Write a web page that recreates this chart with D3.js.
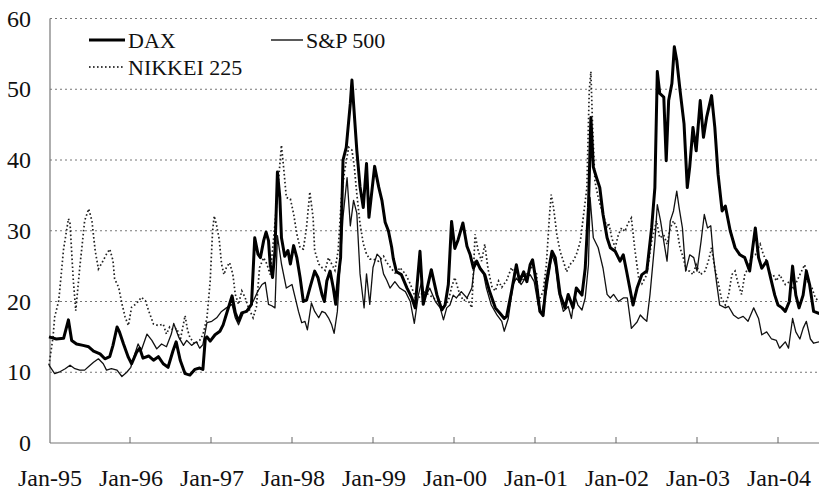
<!DOCTYPE html>
<html>
<head>
<meta charset="utf-8">
<script src="https://cdn.jsdelivr.net/npm/d3@7"></script>
</head>
<body style="margin:0">
<svg id="chart" width="819" height="491"></svg>
<script>
// implied volatility, [decimal year, value]
const dax = [
  [1995.00,15.0],[1995.09,14.7],[1995.18,14.8],[1995.24,17.4],[1995.28,14.5],[1995.34,14.0],[1995.42,13.8],
  [1995.49,13.6],[1995.55,13.0],[1995.63,12.6],[1995.69,11.9],[1995.75,12.2],[1995.79,13.8],[1995.84,16.4],
  [1995.87,15.7],[1995.92,14.0],[1995.98,12.1],[1996.02,11.2],[1996.08,12.8],[1996.12,13.4],[1996.16,12.0],
  [1996.23,12.3],[1996.29,11.7],[1996.35,12.2],[1996.41,11.2],[1996.47,10.7],[1996.53,13.0],[1996.57,14.3],
  [1996.62,11.7],[1996.68,9.8],[1996.74,9.6],[1996.80,10.4],[1996.86,10.6],[1996.90,10.4],[1996.93,14.8],
  [1996.95,15.0],[1996.99,14.4],[1997.05,15.3],[1997.11,15.8],[1997.15,16.7],[1997.19,18.2],[1997.26,20.8],
  [1997.30,18.4],[1997.34,17.2],[1997.38,18.4],[1997.44,18.6],[1997.50,19.6],[1997.54,29.0],[1997.58,26.7],
  [1997.61,26.2],[1997.65,28.6],[1997.68,29.8],[1997.71,28.6],[1997.73,25.3],[1997.76,23.4],[1997.79,27.2],
  [1997.82,38.3],[1997.85,34.7],[1997.87,29.0],[1997.91,26.4],[1997.95,27.2],[1997.98,25.3],[1998.02,27.9],
  [1998.06,26.2],[1998.10,23.4],[1998.14,20.0],[1998.18,20.2],[1998.22,21.9],[1998.28,24.3],[1998.32,23.4],
  [1998.37,21.0],[1998.40,20.0],[1998.43,22.9],[1998.47,24.3],[1998.51,21.9],[1998.54,19.6],[1998.57,23.4],
  [1998.60,26.2],[1998.63,40.0],[1998.67,41.8],[1998.72,48.0],[1998.74,51.3],[1998.80,41.4],[1998.84,36.2],
  [1998.88,33.3],[1998.92,39.5],[1998.95,31.9],[1999.02,39.1],[1999.07,36.2],[1999.11,34.3],[1999.15,31.2],
  [1999.19,30.0],[1999.23,27.7],[1999.25,26.1],[1999.29,24.2],[1999.35,23.8],[1999.42,21.9],[1999.48,20.5],
  [1999.52,19.1],[1999.58,27.1],[1999.62,19.6],[1999.66,21.4],[1999.72,24.5],[1999.79,20.9],[1999.85,18.8],
  [1999.89,19.5],[1999.93,22.4],[1999.97,31.3],[2000.01,27.5],[2000.05,28.7],[2000.11,31.1],[2000.16,27.8],
  [2000.20,26.6],[2000.24,24.7],[2000.28,25.7],[2000.32,24.7],[2000.38,23.8],[2000.44,21.4],[2000.51,19.1],
  [2000.57,18.3],[2000.62,17.6],[2000.65,17.9],[2000.71,21.4],[2000.77,25.2],[2000.81,22.8],[2000.86,24.2],
  [2000.90,22.8],[2000.94,25.2],[2000.97,25.9],[2001.02,22.4],[2001.06,18.6],[2001.10,18.0],[2001.14,22.8],
  [2001.21,27.1],[2001.25,26.2],[2001.31,21.0],[2001.37,19.1],[2001.41,21.0],[2001.47,19.1],[2001.51,21.9],
  [2001.58,20.9],[2001.62,24.7],[2001.66,33.3],[2001.69,46.0],[2001.72,39.0],[2001.76,37.5],[2001.80,36.1],
  [2001.84,32.3],[2001.89,29.0],[2001.93,27.6],[2001.99,27.1],[2002.05,25.7],[2002.09,26.6],[2002.13,24.3],
  [2002.17,21.9],[2002.21,19.5],[2002.26,21.9],[2002.32,23.8],[2002.38,24.3],[2002.44,30.4],[2002.48,36.1],
  [2002.51,52.5],[2002.54,49.4],[2002.59,48.9],[2002.62,39.9],[2002.65,48.4],[2002.69,50.8],[2002.72,56.0],
  [2002.75,54.1],[2002.79,49.9],[2002.84,45.1],[2002.88,36.1],[2002.91,39.0],[2002.95,44.6],[2002.99,41.3],
  [2003.04,48.4],[2003.08,43.2],[2003.12,46.1],[2003.18,49.1],[2003.22,44.6],[2003.26,38.0],[2003.31,32.8],
  [2003.35,33.5],[2003.41,30.0],[2003.47,27.6],[2003.53,26.6],[2003.59,26.2],[2003.65,24.3],[2003.72,30.4],
  [2003.76,26.2],[2003.80,24.7],[2003.86,25.7],[2003.92,22.8],[2003.96,20.9],[2004.00,19.5],[2004.05,19.1],
  [2004.09,18.6],[2004.14,20.0],[2004.18,25.0],[2004.22,20.9],[2004.26,19.1],[2004.31,20.9],[2004.35,24.3],
  [2004.39,22.4],[2004.44,18.6],[2004.51,18.3]
];

const sp500 = [
  [1995.00,11.0],[1995.07,9.8],[1995.14,10.1],[1995.20,10.5],[1995.26,11.0],[1995.32,10.5],[1995.38,10.3],
  [1995.44,10.3],[1995.49,10.8],[1995.55,11.4],[1995.61,11.9],[1995.67,11.2],[1995.71,10.3],[1995.77,10.5],
  [1995.84,10.3],[1995.90,9.4],[1995.96,10.0],[1996.01,10.7],[1996.06,12.6],[1996.10,14.0],[1996.14,13.1],
  [1996.21,15.4],[1996.27,14.5],[1996.33,13.3],[1996.39,14.0],[1996.45,13.6],[1996.51,15.4],[1996.54,16.9],
  [1996.60,15.0],[1996.66,13.8],[1996.70,14.5],[1996.76,13.8],[1996.82,14.3],[1996.86,13.4],[1996.90,13.9],
  [1996.95,17.0],[1997.01,17.2],[1997.07,17.7],[1997.13,18.6],[1997.19,19.1],[1997.26,19.6],[1997.30,17.7],
  [1997.34,16.7],[1997.40,18.4],[1997.46,18.9],[1997.52,20.0],[1997.58,21.5],[1997.63,22.4],[1997.67,22.7],
  [1997.71,19.6],[1997.75,19.4],[1997.79,19.1],[1997.82,29.3],[1997.87,25.3],[1997.93,21.9],[1998.00,22.4],
  [1998.04,20.5],[1998.08,18.6],[1998.12,17.0],[1998.16,17.2],[1998.19,16.0],[1998.24,19.8],[1998.28,18.6],
  [1998.33,17.7],[1998.37,18.6],[1998.41,18.4],[1998.45,17.7],[1998.49,16.7],[1998.52,15.5],[1998.56,18.6],
  [1998.59,24.3],[1998.63,32.0],[1998.68,37.5],[1998.72,30.7],[1998.76,34.3],[1998.80,32.5],[1998.84,23.9],
  [1998.89,19.1],[1998.92,23.9],[1998.96,19.6],[1999.00,24.8],[1999.05,26.7],[1999.09,26.2],[1999.13,23.9],
  [1999.17,23.0],[1999.21,21.9],[1999.27,22.8],[1999.33,21.9],[1999.40,21.4],[1999.46,20.0],[1999.51,16.9],
  [1999.56,20.9],[1999.60,22.8],[1999.64,20.5],[1999.70,21.9],[1999.77,20.0],[1999.83,19.1],[1999.87,17.4],
  [1999.91,19.1],[1999.95,19.5],[1999.99,20.9],[2000.03,20.5],[2000.09,21.4],[2000.16,20.5],[2000.22,21.9],
  [2000.26,25.7],[2000.30,25.2],[2000.36,24.2],[2000.40,21.9],[2000.46,19.5],[2000.53,18.1],[2000.59,17.2],
  [2000.62,15.8],[2000.67,17.6],[2000.73,22.4],[2000.77,23.3],[2000.83,22.4],[2000.88,23.3],[2000.94,23.8],
  [2000.99,22.8],[2001.04,19.5],[2001.08,18.3],[2001.14,21.4],[2001.21,26.6],[2001.25,25.2],[2001.29,21.4],
  [2001.35,18.6],[2001.41,19.3],[2001.45,17.6],[2001.49,20.9],[2001.53,19.5],[2001.58,18.8],[2001.62,20.5],
  [2001.66,25.2],[2001.68,34.7],[2001.72,29.0],[2001.78,27.6],[2001.84,24.7],[2001.89,21.0],[2001.93,20.5],
  [2001.97,21.0],[2002.03,20.0],[2002.09,20.5],[2002.14,20.5],[2002.19,16.2],[2002.26,17.1],[2002.30,18.1],
  [2002.34,17.6],[2002.38,17.2],[2002.42,21.0],[2002.48,28.5],[2002.51,33.7],[2002.55,31.4],[2002.59,28.5],
  [2002.63,25.7],[2002.67,31.4],[2002.71,32.8],[2002.75,35.6],[2002.78,33.2],[2002.82,30.4],[2002.86,24.3],
  [2002.91,26.6],[2002.96,26.2],[2003.00,24.3],[2003.05,28.5],[2003.09,32.3],[2003.13,30.4],[2003.17,30.7],
  [2003.20,26.6],[2003.24,22.8],[2003.28,19.5],[2003.35,19.1],[2003.39,19.3],[2003.45,18.1],[2003.51,17.6],
  [2003.57,17.9],[2003.63,17.2],[2003.70,19.1],[2003.76,17.6],[2003.80,15.3],[2003.86,15.7],[2003.92,14.7],
  [2003.98,14.5],[2004.02,13.4],[2004.09,14.3],[2004.13,13.4],[2004.18,17.6],[2004.22,15.7],[2004.27,14.7],
  [2004.31,16.2],[2004.35,17.2],[2004.40,14.7],[2004.44,14.1],[2004.51,14.3]
];

const nikkei = [
  [1995.00,11.0],[1995.05,15.0],[1995.07,17.8],[1995.12,20.1],[1995.18,27.4],[1995.24,31.7],[1995.26,31.0],
  [1995.30,23.0],[1995.33,18.7],[1995.38,24.8],[1995.44,31.4],[1995.49,33.1],[1995.53,31.4],[1995.57,27.2],
  [1995.61,24.6],[1995.67,25.8],[1995.71,26.7],[1995.75,27.4],[1995.79,25.8],[1995.81,23.2],[1995.86,22.0],
  [1995.90,19.7],[1995.94,17.8],[1995.98,16.6],[1996.02,19.2],[1996.08,19.7],[1996.14,20.6],[1996.19,20.1],
  [1996.23,18.7],[1996.29,16.8],[1996.35,16.6],[1996.41,16.8],[1996.45,15.4],[1996.49,16.4],[1996.53,16.0],
  [1996.58,16.2],[1996.62,14.5],[1996.68,18.0],[1996.71,16.0],[1996.74,14.9],[1996.80,14.0],[1996.86,14.5],
  [1996.90,15.3],[1996.95,17.7],[1996.99,22.9],[1997.02,30.0],[1997.04,32.1],[1997.07,30.7],[1997.10,28.9],
  [1997.13,25.3],[1997.16,23.8],[1997.19,24.8],[1997.23,25.5],[1997.27,23.8],[1997.30,21.0],[1997.34,19.6],
  [1997.38,21.5],[1997.42,20.6],[1997.46,19.2],[1997.52,17.7],[1997.56,19.2],[1997.60,24.8],[1997.65,26.2],
  [1997.69,25.3],[1997.73,23.8],[1997.79,31.0],[1997.83,36.6],[1997.87,42.1],[1997.90,38.5],[1997.93,34.7],
  [1997.98,34.5],[1998.02,32.4],[1998.06,29.5],[1998.10,27.6],[1998.14,27.4],[1998.18,30.5],[1998.22,35.5],
  [1998.26,31.9],[1998.28,27.2],[1998.33,25.3],[1998.37,24.8],[1998.41,24.4],[1998.45,26.2],[1998.49,25.3],
  [1998.53,24.4],[1998.57,27.2],[1998.61,34.7],[1998.65,38.5],[1998.70,41.8],[1998.74,41.4],[1998.77,39.0],
  [1998.80,35.2],[1998.84,31.0],[1998.88,28.2],[1998.92,26.7],[1998.96,26.0],[1999.00,26.0],[1999.07,25.7],
  [1999.13,26.4],[1999.17,25.5],[1999.23,24.6],[1999.29,23.8],[1999.33,24.8],[1999.40,23.9],[1999.46,22.5],
  [1999.54,20.1],[1999.62,21.4],[1999.70,20.9],[1999.79,20.1],[1999.87,19.1],[1999.93,20.1],[1999.97,22.0],
  [2000.01,23.4],[2000.07,21.0],[2000.12,20.1],[2000.16,20.5],[2000.22,19.1],[2000.26,29.5],[2000.30,27.1],
  [2000.34,25.7],[2000.38,28.1],[2000.42,24.6],[2000.47,22.0],[2000.51,21.5],[2000.55,22.9],[2000.59,22.0],
  [2000.65,23.0],[2000.71,24.8],[2000.75,23.9],[2000.81,23.9],[2000.86,23.0],[2000.90,23.9],[2000.96,24.8],
  [2001.02,23.9],[2001.04,20.0],[2001.10,21.4],[2001.14,25.2],[2001.18,32.3],[2001.20,35.1],[2001.23,33.2],
  [2001.27,29.4],[2001.31,27.1],[2001.35,25.7],[2001.39,24.2],[2001.43,25.2],[2001.47,25.7],[2001.51,26.6],
  [2001.56,28.5],[2001.60,32.3],[2001.64,36.0],[2001.67,49.9],[2001.69,52.5],[2001.71,45.1],[2001.74,37.0],
  [2001.78,34.7],[2001.84,32.3],[2001.89,30.4],[2001.91,31.1],[2001.95,28.9],[2001.99,27.6],[2002.03,29.5],
  [2002.07,30.4],[2002.11,29.9],[2002.15,31.1],[2002.19,31.8],[2002.23,27.6],[2002.28,23.3],[2002.32,22.5],
  [2002.38,23.8],[2002.44,28.5],[2002.50,31.4],[2002.54,29.0],[2002.59,29.4],[2002.63,28.1],[2002.67,30.4],
  [2002.71,31.4],[2002.75,30.4],[2002.79,27.6],[2002.83,26.2],[2002.87,24.3],[2002.91,24.3],[2002.95,23.8],
  [2002.99,25.2],[2003.04,23.8],[2003.10,24.3],[2003.14,25.7],[2003.18,27.6],[2003.22,24.7],[2003.26,22.8],
  [2003.30,20.5],[2003.35,19.5],[2003.39,20.9],[2003.43,23.8],[2003.47,24.3],[2003.51,22.4],[2003.55,21.0],
  [2003.59,23.8],[2003.63,24.7],[2003.67,26.2],[2003.72,26.6],[2003.78,28.1],[2003.82,26.6],[2003.86,25.7],
  [2003.90,23.8],[2003.94,23.8],[2003.98,22.9],[2004.02,23.8],[2004.09,22.4],[2004.14,22.8],[2004.19,21.9],
  [2004.23,22.8],[2004.27,23.8],[2004.33,25.2],[2004.37,22.8],[2004.42,21.9],[2004.46,20.5],[2004.51,20.0]
];

const years = [1995, 1996, 1997, 1998, 1999, 2000, 2001, 2002, 2003, 2004];
const yTicks = [0, 10, 20, 30, 40, 50, 60];

const svg = d3.select("#chart");

const x = d3.scaleLinear().domain([1995, 2004]).range([49, 778]);
const y = d3.scaleLinear().domain([0, 60]).range([443, 18.5]);

// dotted gridlines
svg.append("g")
    .selectAll("line")
    .data(yTicks.filter(d => d > 0))
    .join("line")
    .attr("x1", 50)
    .attr("x2", 819)
    .attr("y1", d => y(d))
    .attr("y2", d => y(d))
    .attr("stroke", "#777")
    .attr("stroke-width", 1)
    .attr("stroke-dasharray", "2,3");

// axes lines
svg.append("line")
    .attr("x1", 50).attr("x2", 50)
    .attr("y1", y(60)).attr("y2", y(0))
    .attr("stroke", "#777").attr("stroke-width", 1.2);
svg.append("line")
    .attr("x1", 50).attr("x2", 819)
    .attr("y1", y(0)).attr("y2", y(0))
    .attr("stroke", "#777").attr("stroke-width", 1.2);

// year ticks pointing up
svg.append("g")
    .selectAll("line")
    .data(years.slice(1))
    .join("line")
    .attr("x1", d => x(d))
    .attr("x2", d => x(d))
    .attr("y1", y(0))
    .attr("y2", y(0) - 6)
    .attr("stroke", "#666");

const line = d3.line()
    .x(d => x(d[0]))
    .y(d => y(d[1]));

svg.append("path")
    .datum(nikkei)
    .attr("d", line)
    .attr("fill", "none")
    .attr("stroke", "#222")
    .attr("stroke-width", 1.7)
    .attr("stroke-dasharray", "1.6,2.4");

svg.append("path")
    .datum(sp500)
    .attr("d", line)
    .attr("fill", "none")
    .attr("stroke", "#111")
    .attr("stroke-width", 1.3)
    .attr("stroke-linejoin", "round");

svg.append("path")
    .datum(dax)
    .attr("d", line)
    .attr("fill", "none")
    .attr("stroke", "#000")
    .attr("stroke-width", 3)
    .attr("stroke-linejoin", "round");

// legend
const legend = [
  { name: "DAX", lx: 89, ly: 40, len: 36, w: 3, dash: null },
  { name: "S&P 500", lx: 271, ly: 40, len: 32, w: 1.3, dash: null },
  { name: "NIKKEI 225", lx: 89, ly: 67, len: 36, w: 1.7, dash: "1.6,2.4" }
];
svg.selectAll("line.key")
    .data(legend)
    .join("line")
    .attr("class", "key")
    .attr("x1", d => d.lx)
    .attr("x2", d => d.lx + d.len)
    .attr("y1", d => d.ly)
    .attr("y2", d => d.ly)
    .attr("stroke", "#000")
    .attr("stroke-width", d => d.w)
    .attr("stroke-dasharray", d => d.dash);

// all labels, serif like the original figure
const labels = [
  ...years.map(d => ({ t: "Jan-" + String(d).slice(2), x: x(d) + 1, y: 486, a: "middle", s: 24 })),
  ...yTicks.map(d => ({ t: String(d), x: 31, y: y(d) + 8, a: "end", s: 24 })),
  ...legend.map(d => ({ t: d.name, x: d.lx + d.len + 3, y: d.ly + 8, a: "start", s: 22 }))
];
svg.selectAll("text")
    .data(labels)
    .join("text")
    .attr("x", d => d.x)
    .attr("y", d => d.y)
    .attr("text-anchor", d => d.a)
    .style("font-family", d => `"Times New Roman"`)
    .style("font-size", d => d.s + "px")
    .style("fill", "#111")
    .text(d => d.t);
</script>
</body>
</html>
